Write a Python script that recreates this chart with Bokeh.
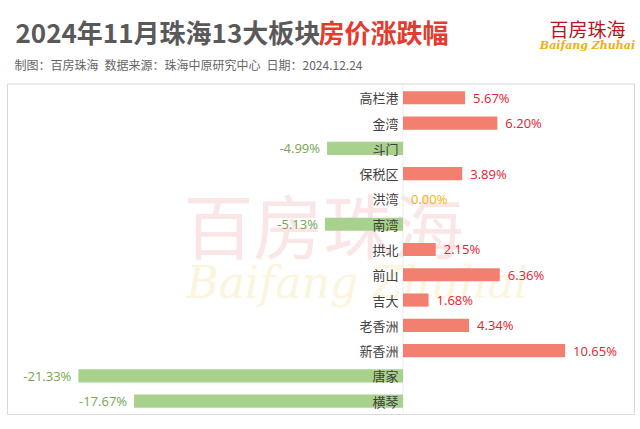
from bokeh.plotting import figure
from bokeh.models import Range1d, ColumnDataSource
from bokeh.core.properties import value
from bokeh.embed import file_html
from bokeh.resources import INLINE

# ---- data ----
districts = ["高栏港", "金湾", "斗门", "保税区", "洪湾", "南湾", "拱北",
             "前山", "吉大", "老香洲", "新香洲", "唐家", "横琴"]
changes = [5.67, 6.20, -4.99, 3.89, 0.00, -5.13, 2.15,
           6.36, 1.68, 4.34, 10.65, -21.33, -17.67]
# bar lengths as drawn in the reference (the 高栏港 bar is drawn shorter than its label)
bar_lengths = [4.08, 6.20, -4.99, 3.89, 0.00, -5.13, 2.15,
               6.36, 1.68, 4.34, 10.65, -21.33, -17.67]
title_main = "2024年11月珠海13大板块"
title_red = "房价涨跌幅"
subtitle = "制图：百房珠海\u2002数据来源：珠海中原研究中心\u2002日期：2024.12.24"

# ---- geometry (pixel layout of the reference) ----
W, H = 640, 429
ZERO_PX = 402.5
PX_PER_PCT = 15.22
ROW0_PX = 97.3
ROW_PX = 25.28

def X(px):
    return (px - ZERO_PX) / PX_PER_PCT

def Y(py):
    return (py - ROW0_PX) / ROW_PX

p = figure(width=W, height=H, output_backend="svg", toolbar_location=None,
           x_range=Range1d(X(0), X(W)), y_range=Range1d(Y(H), Y(0)),
           min_border=0, min_border_left=0, min_border_right=0,
           min_border_top=0, min_border_bottom=0)
p.axis.visible = False
p.grid.visible = False
p.outline_line_color = None
p.background_fill_color = "white"
p.border_fill_color = "white"

CJK = value("Noto Sans CJK SC")
NUM = value("Open Sans")

# chart box
p.quad(left=[X(7)], right=[X(634)], top=[Y(83.5)], bottom=[Y(414)],
       fill_color=None, line_color="#d9d9d9", line_width=1)

# watermark
p.text(x=[X(183)], y=[Y(223)], text=["百房珠海"], text_font=CJK,
       text_font_size="70px", text_color="#fae6e6",
       text_align="left", text_baseline="middle")
p.text(x=[X(186)], y=[Y(282)], text=["Baifang Zhuhai"], text_font=value("DejaVu Serif"),
       text_font_size="44px", text_color="#fcf5de",
       text_align="left", text_baseline="middle", text_font_style="italic")

# zero line
p.segment(x0=[0], x1=[0], y0=[Y(84)], y1=[Y(413)], line_color="#ececec", line_width=1)

rows = list(range(len(districts)))
pos_color = "#f27f70"
neg_color = "#a9d18e"
bar_colors = [pos_color if v > 0 else neg_color for v in bar_lengths]
src = ColumnDataSource(dict(y=rows, left=[min(0, v) for v in bar_lengths],
                            right=[max(0, v) for v in bar_lengths], color=bar_colors))
p.hbar(y="y", left="left", right="right", height=0.52, fill_color="color",
       line_color=None, source=src)

# category labels
p.text(x=[X(398)] * len(rows), y=rows, text=districts, text_font=CJK,
       text_font_size="13px", text_color="#404040", text_align="right",
       text_baseline="middle")

# value labels
lab_color = []
for v in changes:
    if v > 0:
        lab_color.append("#e8202f")
    elif v < 0:
        lab_color.append("#74a552")
    else:
        lab_color.append("#f2b600")
pos_idx = [i for i, v in enumerate(changes) if v >= 0]
neg_idx = [i for i, v in enumerate(changes) if v < 0]
p.text(x=[bar_lengths[i] for i in pos_idx], y=[rows[i] for i in pos_idx],
       text=["%.2f%%" % changes[i] for i in pos_idx], x_offset=8,
       text_color=[lab_color[i] for i in pos_idx], text_font=NUM,
       text_font_size="13px", text_align="left", text_baseline="middle")
p.text(x=[bar_lengths[i] for i in neg_idx], y=[rows[i] for i in neg_idx],
       text=["%.2f%%" % changes[i] for i in neg_idx], x_offset=-7,
       text_color=[lab_color[i] for i in neg_idx], text_font=NUM,
       text_font_size="13px", text_align="right", text_baseline="middle")

# titles
p.text(x=[X(15)], y=[Y(31)], text=[title_main], text_font=CJK,
       text_font_size="26px", text_font_style="bold", text_color="#595959",
       text_align="left", text_baseline="middle")
p.text(x=[X(318)], y=[Y(31)], text=[title_red], text_font=CJK,
       text_font_size="26px", text_font_style="bold", text_color="#e53a2e",
       text_align="left", text_baseline="middle")
p.text(x=[X(14)], y=[Y(64)], text=[subtitle], text_font=CJK,
       text_font_size="12px", text_color="#666666",
       text_align="left", text_baseline="middle")

# logo
p.text(x=[X(587)], y=[Y(28)], text=["百房珠海"], text_font=CJK,
       text_font_size="19px", text_color="#b8141c",
       text_align="center", text_baseline="middle")
p.text(x=[X(587)], y=[Y(45)], text=["Baifang Zhuhai"], text_font=value("DejaVu Serif"),
       text_font_size="11px", text_color="#eeb10a", text_font_style="bold italic",
       text_align="center", text_baseline="middle")

open("out.html", "w").write(file_html(p, INLINE))
